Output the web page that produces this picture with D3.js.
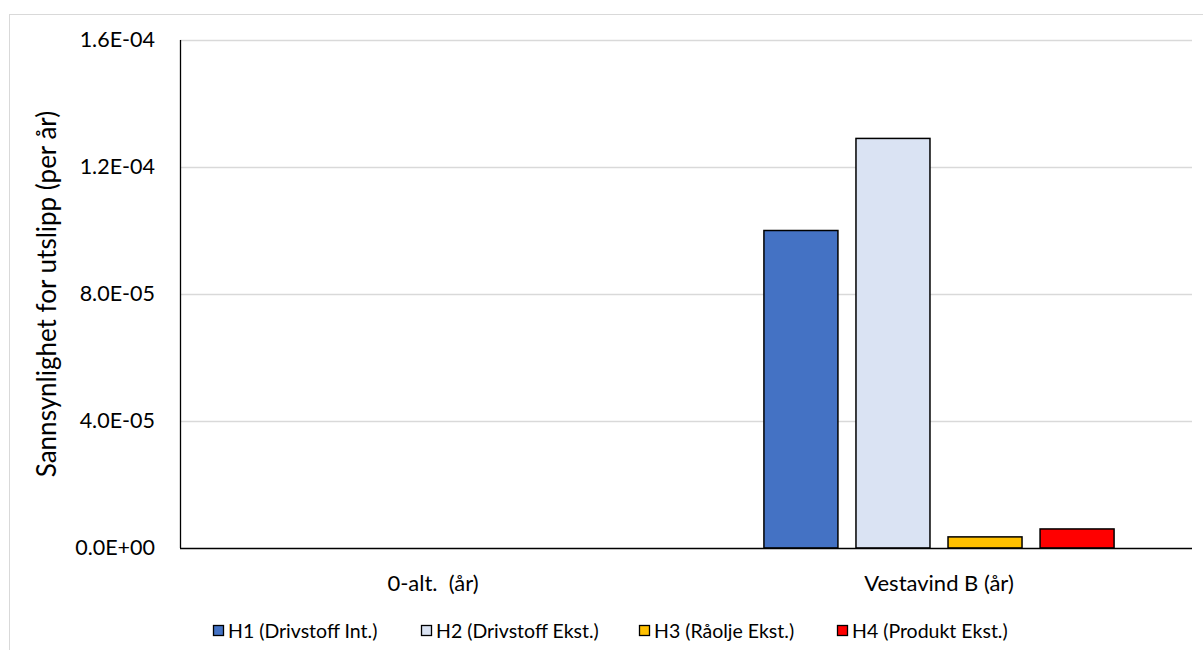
<!DOCTYPE html>
<html>
<head>
<meta charset="utf-8">
<script src="https://cdn.jsdelivr.net/npm/d3@7"></script>
<style>
  html, body { margin: 0; padding: 0; background: #fff; }
  svg { display: block; }
  text { font-family: Lato, "Open Sans", sans-serif; fill: #000; }
</style>
</head>
<body>
<svg id="chart" width="1203" height="650"></svg>
<script>
// Scenario categories along the x axis
const categories = ["0-alt.  (år)", "Vestavind B (år)"];
// Hazard series names
const seriesNames = ["H1 (Drivstoff Int.)", "H2 (Drivstoff Ekst.)", "H3 (Råolje Ekst.)", "H4 (Produkt Ekst.)"];
// Release probability per year, one array per series (index = category)
const h1Values = [0, 1.0e-4];
const h2Values = [0, 1.29e-4];
const h3Values = [0, 3.5e-6];
const h4Values = [0, 6.0e-6];
const seriesColors = ["#4472c4", "#dae3f3", "#ffc000", "#ff0000"];
// Y axis ticks
const yTicks = [0, 4e-5, 8e-5, 1.2e-4, 1.6e-4];
const yTickLabels = ["0.0E+00", "4.0E-05", "8.0E-05", "1.2E-04", "1.6E-04"];
const yTitle = "Sannsynlighet for utslipp (per år)";

const seriesValues = [h1Values, h2Values, h3Values, h4Values];
const rows = categories.map((c, i) => ({
  category: c,
  values: seriesNames.map((s, j) => ({ series: s, value: seriesValues[j][i], color: seriesColors[j] }))
}));

const svg = d3.select("#chart");

// Outer chart frame
svg.append("rect")
  .attr("x", 9.5).attr("y", 14.5)
  .attr("width", 1220).attr("height", 660)
  .attr("fill", "none").attr("stroke", "#d9d9d9").attr("stroke-width", 1);

const plot = { left: 180, right: 1192, top: 40, bottom: 548 };

const y = d3.scaleLinear().domain([0, 1.6e-4]).range([plot.bottom, plot.top]);
const x0 = d3.scaleBand().domain(categories)
  .range([plot.left, plot.right])
  .paddingInner(0.308).paddingOuter(0.154);
const x1 = d3.scaleBand().domain(seriesNames)
  .range([0, x0.bandwidth()])
  .paddingInner(0.196).paddingOuter(0);

// Horizontal gridlines
svg.append("g")
  .selectAll("line")
  .data(yTicks.filter(t => t > 0))
  .join("line")
  .attr("x1", plot.left).attr("x2", plot.right)
  .attr("y1", d => Math.round(y(d)) + 0.5).attr("y2", d => Math.round(y(d)) + 0.5)
  .attr("stroke", "#d9d9d9").attr("stroke-width", 1.3);

// Y axis
const yAxis = d3.axisLeft(y)
  .tickValues(yTicks)
  .tickFormat((d, i) => yTickLabels[i])
  .tickSize(0).tickPadding(25);
const gy = svg.append("g").attr("transform", `translate(${plot.left},0)`).call(yAxis);
gy.select(".domain").remove();
gy.selectAll("text").attr("font-size", 21.5).attr("font-family", "Lato, sans-serif").attr("fill", "#000");

// Bars
svg.append("g")
  .selectAll("g")
  .data(rows)
  .join("g")
  .attr("transform", d => `translate(${x0(d.category)},0)`)
  .selectAll("rect")
  .data(d => d.values.filter(v => v.value > 0))
  .join("rect")
  .attr("x", d => x1(d.series))
  .attr("y", d => y(d.value))
  .attr("width", x1.bandwidth())
  .attr("height", d => y(0) - y(d.value))
  .attr("fill", d => d.color)
  .attr("stroke", "#000").attr("stroke-width", 1.5);

// Axis lines
svg.append("line")
  .attr("x1", plot.left + 0.5).attr("x2", plot.left + 0.5)
  .attr("y1", plot.top).attr("y2", plot.bottom)
  .attr("stroke", "#000").attr("stroke-width", 1.3);
svg.append("line")
  .attr("x1", plot.left).attr("x2", plot.right)
  .attr("y1", plot.bottom + 0.5).attr("y2", plot.bottom + 0.5)
  .attr("stroke", "#000").attr("stroke-width", 1.3);

// X axis category labels
const xAxis = d3.axisBottom(x0).tickSize(0).tickPadding(27);
const gx = svg.append("g").attr("transform", `translate(0,${plot.bottom})`).call(xAxis);
gx.select(".domain").remove();
gx.selectAll("text").attr("font-size", 22).attr("font-family", "Lato, sans-serif").attr("fill", "#000")
  .style("white-space", "pre");

// Y axis title
svg.append("text")
  .attr("transform", `translate(56,${(plot.top + plot.bottom) / 2}) rotate(-90)`)
  .attr("text-anchor", "middle")
  .attr("font-size", 26)
  .text(yTitle);

// Legend
const legendX = [213, 421, 639, 837];
const legend = svg.append("g").attr("transform", "translate(0,631)");
const items = legend.selectAll("g")
  .data(seriesNames)
  .join("g")
  .attr("transform", (d, i) => `translate(${legendX[i]},0)`);
items.append("rect")
  .attr("x", 0.5).attr("y", -5.5).attr("width", 10).attr("height", 10)
  .attr("fill", (d, i) => seriesColors[i])
  .attr("stroke", "#000").attr("stroke-width", 1.3);
items.append("text")
  .attr("x", 15).attr("y", 0).attr("dy", "0.35em")
  .attr("font-size", 19.5)
  .text(d => d);
</script>
</body>
</html>
